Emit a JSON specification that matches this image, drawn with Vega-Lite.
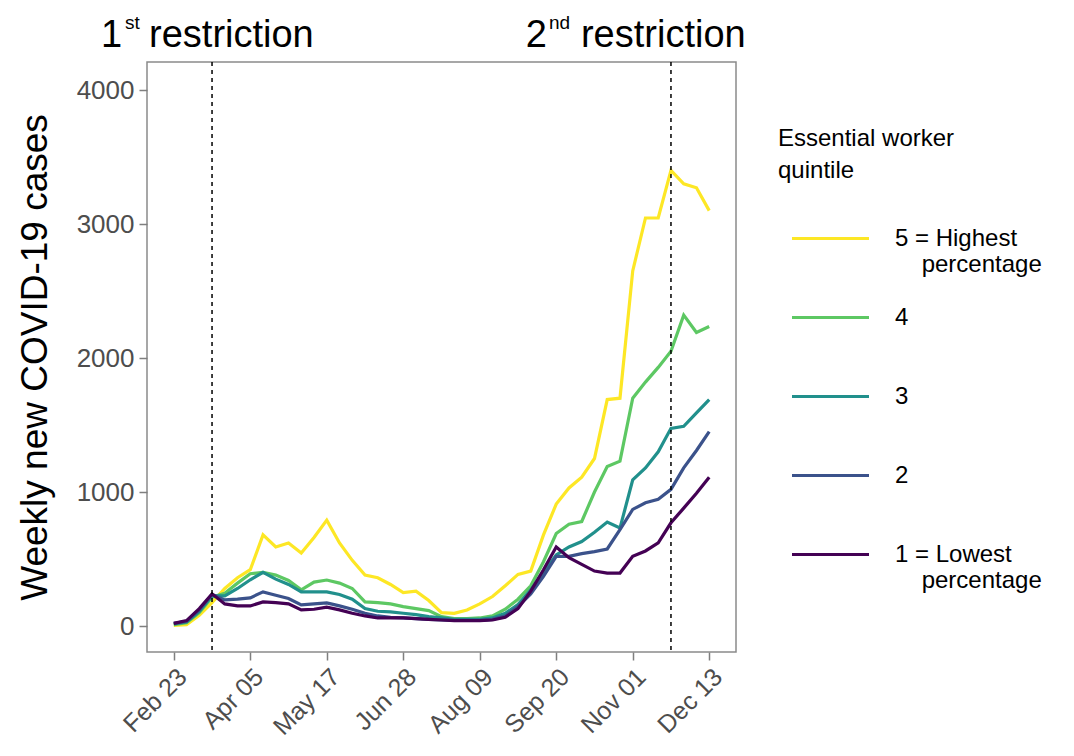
{
  "$schema": "https://vega.github.io/schema/vega-lite/v6.json",
  "autosize": "none",
  "width": 589,
  "height": 590,
  "padding": {"left": 147, "top": 62, "right": 338, "bottom": 104},
  "background": "white",
  "config": {
    "font": "Liberation Sans",
    "view": {"stroke": "#8a8a8a", "strokeWidth": 1.5},
    "axis": {"grid": false, "domain": false, "tickColor": "#7f7f7f", "tickWidth": 1.5, "tickSize": 8, "labelColor": "#4d4d4d", "labelFontSize": 25, "titleColor": "#000000", "titleFontWeight": "normal"}
  },
  "datasets": {
    "cases": [
      {"d":"2020-02-23","q":"5","v":5},{"d":"2020-03-01","q":"5","v":10},{"d":"2020-03-08","q":"5","v":80},{"d":"2020-03-15","q":"5","v":175},{"d":"2020-03-22","q":"5","v":280},{"d":"2020-03-29","q":"5","v":360},{"d":"2020-04-05","q":"5","v":420},{"d":"2020-04-12","q":"5","v":680},{"d":"2020-04-19","q":"5","v":590},{"d":"2020-04-26","q":"5","v":620},{"d":"2020-05-03","q":"5","v":545},{"d":"2020-05-10","q":"5","v":660},{"d":"2020-05-17","q":"5","v":790},{"d":"2020-05-24","q":"5","v":620},{"d":"2020-05-31","q":"5","v":490},{"d":"2020-06-07","q":"5","v":380},{"d":"2020-06-14","q":"5","v":360},{"d":"2020-06-21","q":"5","v":310},{"d":"2020-06-28","q":"5","v":250},{"d":"2020-07-05","q":"5","v":260},{"d":"2020-07-12","q":"5","v":190},{"d":"2020-07-19","q":"5","v":100},{"d":"2020-07-26","q":"5","v":95},{"d":"2020-08-02","q":"5","v":120},{"d":"2020-08-09","q":"5","v":165},{"d":"2020-08-16","q":"5","v":220},{"d":"2020-08-23","q":"5","v":300},{"d":"2020-08-30","q":"5","v":385},{"d":"2020-09-06","q":"5","v":410},{"d":"2020-09-13","q":"5","v":680},{"d":"2020-09-20","q":"5","v":910},{"d":"2020-09-27","q":"5","v":1030},{"d":"2020-10-04","q":"5","v":1110},{"d":"2020-10-11","q":"5","v":1250},{"d":"2020-10-18","q":"5","v":1690},{"d":"2020-10-25","q":"5","v":1700},{"d":"2020-11-01","q":"5","v":2650},{"d":"2020-11-08","q":"5","v":3045},{"d":"2020-11-15","q":"5","v":3045},{"d":"2020-11-22","q":"5","v":3400},{"d":"2020-11-29","q":"5","v":3300},{"d":"2020-12-06","q":"5","v":3270},{"d":"2020-12-13","q":"5","v":3100},
      {"d":"2020-02-23","q":"4","v":10},{"d":"2020-03-01","q":"4","v":25},{"d":"2020-03-08","q":"4","v":100},{"d":"2020-03-15","q":"4","v":215},{"d":"2020-03-22","q":"4","v":245},{"d":"2020-03-29","q":"4","v":320},{"d":"2020-04-05","q":"4","v":390},{"d":"2020-04-12","q":"4","v":400},{"d":"2020-04-19","q":"4","v":380},{"d":"2020-04-26","q":"4","v":340},{"d":"2020-05-03","q":"4","v":270},{"d":"2020-05-10","q":"4","v":328},{"d":"2020-05-17","q":"4","v":343},{"d":"2020-05-24","q":"4","v":320},{"d":"2020-05-31","q":"4","v":280},{"d":"2020-06-07","q":"4","v":180},{"d":"2020-06-14","q":"4","v":175},{"d":"2020-06-21","q":"4","v":165},{"d":"2020-06-28","q":"4","v":145},{"d":"2020-07-05","q":"4","v":130},{"d":"2020-07-12","q":"4","v":115},{"d":"2020-07-19","q":"4","v":70},{"d":"2020-07-26","q":"4","v":55},{"d":"2020-08-02","q":"4","v":55},{"d":"2020-08-09","q":"4","v":60},{"d":"2020-08-16","q":"4","v":75},{"d":"2020-08-23","q":"4","v":125},{"d":"2020-08-30","q":"4","v":200},{"d":"2020-09-06","q":"4","v":300},{"d":"2020-09-13","q":"4","v":480},{"d":"2020-09-20","q":"4","v":690},{"d":"2020-09-27","q":"4","v":760},{"d":"2020-10-04","q":"4","v":780},{"d":"2020-10-11","q":"4","v":1000},{"d":"2020-10-18","q":"4","v":1190},{"d":"2020-10-25","q":"4","v":1230},{"d":"2020-11-01","q":"4","v":1700},{"d":"2020-11-08","q":"4","v":1820},{"d":"2020-11-15","q":"4","v":1930},{"d":"2020-11-22","q":"4","v":2050},{"d":"2020-11-29","q":"4","v":2320},{"d":"2020-12-06","q":"4","v":2190},{"d":"2020-12-13","q":"4","v":2235},
      {"d":"2020-02-23","q":"3","v":15},{"d":"2020-03-01","q":"3","v":30},{"d":"2020-03-08","q":"3","v":110},{"d":"2020-03-15","q":"3","v":225},{"d":"2020-03-22","q":"3","v":225},{"d":"2020-03-29","q":"3","v":280},{"d":"2020-04-05","q":"3","v":345},{"d":"2020-04-12","q":"3","v":400},{"d":"2020-04-19","q":"3","v":350},{"d":"2020-04-26","q":"3","v":310},{"d":"2020-05-03","q":"3","v":254},{"d":"2020-05-10","q":"3","v":254},{"d":"2020-05-17","q":"3","v":254},{"d":"2020-05-24","q":"3","v":235},{"d":"2020-05-31","q":"3","v":200},{"d":"2020-06-07","q":"3","v":130},{"d":"2020-06-14","q":"3","v":110},{"d":"2020-06-21","q":"3","v":105},{"d":"2020-06-28","q":"3","v":95},{"d":"2020-07-05","q":"3","v":85},{"d":"2020-07-12","q":"3","v":70},{"d":"2020-07-19","q":"3","v":60},{"d":"2020-07-26","q":"3","v":50},{"d":"2020-08-02","q":"3","v":50},{"d":"2020-08-09","q":"3","v":50},{"d":"2020-08-16","q":"3","v":60},{"d":"2020-08-23","q":"3","v":95},{"d":"2020-08-30","q":"3","v":160},{"d":"2020-09-06","q":"3","v":270},{"d":"2020-09-13","q":"3","v":400},{"d":"2020-09-20","q":"3","v":530},{"d":"2020-09-27","q":"3","v":590},{"d":"2020-10-04","q":"3","v":630},{"d":"2020-10-11","q":"3","v":700},{"d":"2020-10-18","q":"3","v":776},{"d":"2020-10-25","q":"3","v":731},{"d":"2020-11-01","q":"3","v":1090},{"d":"2020-11-08","q":"3","v":1180},{"d":"2020-11-15","q":"3","v":1300},{"d":"2020-11-22","q":"3","v":1475},{"d":"2020-11-29","q":"3","v":1490},{"d":"2020-12-06","q":"3","v":1590},{"d":"2020-12-13","q":"3","v":1690},
      {"d":"2020-02-23","q":"2","v":20},{"d":"2020-03-01","q":"2","v":35},{"d":"2020-03-08","q":"2","v":120},{"d":"2020-03-15","q":"2","v":235},{"d":"2020-03-22","q":"2","v":195},{"d":"2020-03-29","q":"2","v":200},{"d":"2020-04-05","q":"2","v":210},{"d":"2020-04-12","q":"2","v":255},{"d":"2020-04-19","q":"2","v":230},{"d":"2020-04-26","q":"2","v":205},{"d":"2020-05-03","q":"2","v":157},{"d":"2020-05-10","q":"2","v":165},{"d":"2020-05-17","q":"2","v":172},{"d":"2020-05-24","q":"2","v":150},{"d":"2020-05-31","q":"2","v":125},{"d":"2020-06-07","q":"2","v":95},{"d":"2020-06-14","q":"2","v":75},{"d":"2020-06-21","q":"2","v":65},{"d":"2020-06-28","q":"2","v":60},{"d":"2020-07-05","q":"2","v":55},{"d":"2020-07-12","q":"2","v":50},{"d":"2020-07-19","q":"2","v":45},{"d":"2020-07-26","q":"2","v":42},{"d":"2020-08-02","q":"2","v":42},{"d":"2020-08-09","q":"2","v":42},{"d":"2020-08-16","q":"2","v":50},{"d":"2020-08-23","q":"2","v":75},{"d":"2020-08-30","q":"2","v":145},{"d":"2020-09-06","q":"2","v":240},{"d":"2020-09-13","q":"2","v":370},{"d":"2020-09-20","q":"2","v":520},{"d":"2020-09-27","q":"2","v":520},{"d":"2020-10-04","q":"2","v":540},{"d":"2020-10-11","q":"2","v":555},{"d":"2020-10-18","q":"2","v":575},{"d":"2020-10-25","q":"2","v":720},{"d":"2020-11-01","q":"2","v":870},{"d":"2020-11-08","q":"2","v":920},{"d":"2020-11-15","q":"2","v":945},{"d":"2020-11-22","q":"2","v":1020},{"d":"2020-11-29","q":"2","v":1180},{"d":"2020-12-06","q":"2","v":1310},{"d":"2020-12-13","q":"2","v":1450},
      {"d":"2020-02-23","q":"1","v":20},{"d":"2020-03-01","q":"1","v":40},{"d":"2020-03-08","q":"1","v":130},{"d":"2020-03-15","q":"1","v":240},{"d":"2020-03-22","q":"1","v":165},{"d":"2020-03-29","q":"1","v":150},{"d":"2020-04-05","q":"1","v":150},{"d":"2020-04-12","q":"1","v":180},{"d":"2020-04-19","q":"1","v":175},{"d":"2020-04-26","q":"1","v":165},{"d":"2020-05-03","q":"1","v":120},{"d":"2020-05-10","q":"1","v":125},{"d":"2020-05-17","q":"1","v":140},{"d":"2020-05-24","q":"1","v":120},{"d":"2020-05-31","q":"1","v":95},{"d":"2020-06-07","q":"1","v":75},{"d":"2020-06-14","q":"1","v":60},{"d":"2020-06-21","q":"1","v":60},{"d":"2020-06-28","q":"1","v":60},{"d":"2020-07-05","q":"1","v":55},{"d":"2020-07-12","q":"1","v":50},{"d":"2020-07-19","q":"1","v":45},{"d":"2020-07-26","q":"1","v":40},{"d":"2020-08-02","q":"1","v":40},{"d":"2020-08-09","q":"1","v":40},{"d":"2020-08-16","q":"1","v":45},{"d":"2020-08-23","q":"1","v":65},{"d":"2020-08-30","q":"1","v":130},{"d":"2020-09-06","q":"1","v":260},{"d":"2020-09-13","q":"1","v":420},{"d":"2020-09-20","q":"1","v":590},{"d":"2020-09-27","q":"1","v":510},{"d":"2020-10-04","q":"1","v":460},{"d":"2020-10-11","q":"1","v":410},{"d":"2020-10-18","q":"1","v":395},{"d":"2020-10-25","q":"1","v":395},{"d":"2020-11-01","q":"1","v":520},{"d":"2020-11-08","q":"1","v":560},{"d":"2020-11-15","q":"1","v":620},{"d":"2020-11-22","q":"1","v":770},{"d":"2020-11-29","q":"1","v":880},{"d":"2020-12-06","q":"1","v":990},{"d":"2020-12-13","q":"1","v":1110}
    ],
    "restrictions": [
      {"d":"2020-03-15","ord":"1","sup":"st","word":"restriction"},
      {"d":"2020-11-22","ord":"2","sup":"nd","word":"restriction"}
    ]
  },
  "encoding": {
    "x": {
      "field": "d", "type": "temporal",
      "scale": {"type": "utc", "nice": false, "domain": [{"year": 2020, "month": 2, "date": 8, "hours": 7, "utc": true}, {"year": 2020, "month": 12, "date": 27, "hours": 17, "utc": true}]},
      "axis": {
        "title": null, "labelExpr": "utcFormat(datum.value, '%b %d')", "labelAngle": -45, "labelPadding": 4, "labelOverlap": false,
        "values": [
          {"year": 2020, "month": 2, "date": 23, "utc": true},
          {"year": 2020, "month": 4, "date": 5, "utc": true},
          {"year": 2020, "month": 5, "date": 17, "utc": true},
          {"year": 2020, "month": 6, "date": 28, "utc": true},
          {"year": 2020, "month": 8, "date": 9, "utc": true},
          {"year": 2020, "month": 9, "date": 20, "utc": true},
          {"year": 2020, "month": 11, "date": 1, "utc": true},
          {"year": 2020, "month": 12, "date": 13, "utc": true}
        ]
      }
    }
  },
  "layer": [
    {
      "data": {"name": "cases"},
      "mark": {"type": "line", "strokeWidth": 3.2, "clip": true},
      "encoding": {
        "y": {
          "field": "v", "type": "quantitative",
          "scale": {"domain": [-194, 4209], "nice": false, "zero": false},
          "axis": {"title": "Weekly new COVID-19 cases", "titleFontSize": 37, "titlePadding": 22, "values": [0, 1000, 2000, 3000, 4000], "format": "d", "labelPadding": 5, "labelFontSize": 26}
        },
        "color": {
          "field": "q", "type": "nominal",
          "scale": {"domain": ["5", "4", "3", "2", "1"], "range": ["#FDE725", "#5DC863", "#21908C", "#3B528B", "#440154"]},
          "legend": {
            "title": ["Essential worker", "quintile"],
            "orient": "none", "legendX": 631, "legendY": 65, "padding": 0,
            "titleFontSize": 24, "titleFontWeight": "normal", "titleColor": "#000000", "titleLineHeight": 32, "titlePadding": 15,
            "labelFontSize": 24, "labelColor": "#000000", "labelLimit": 400, "labelOffset": 24,
            "symbolType": "stroke", "symbolSize": 5929, "symbolStrokeWidth": 3.2, "symbolOffset": 12, "rowPadding": 0, "gridAlign": "all",
            "labelExpr": "datum.label == '5' ? ['5 = Highest', '\u200b\u00a0\u00a0\u00a0\u00a0percentage'] : datum.label == '1' ? ['1 = Lowest', '\u200b\u00a0\u00a0\u00a0\u00a0percentage'] : datum.label"
          }
        },
        "order": {"field": "q", "type": "ordinal", "sort": "descending"}
      }
    },
    {
      "data": {"name": "restrictions"},
      "mark": {"type": "rule", "strokeDash": [4, 4], "strokeWidth": 1.5, "color": "#000000"},
      "encoding": {}
    },
    {
      "data": {"name": "restrictions"},
      "transform": [{"filter": "datum.ord == '1'"}],
      "layer": [
        {"mark": {"type": "text", "align": "left", "baseline": "alphabetic", "fontSize": 38, "dx": -63, "color": "#000000"}, "encoding": {"y": {"datum": 4321}, "text": {"field": "word"}}},
        {"mark": {"type": "text", "align": "right", "baseline": "alphabetic", "fontSize": 38, "dx": -90, "color": "#000000"}, "encoding": {"y": {"datum": 4321}, "text": {"field": "ord"}}},
        {"mark": {"type": "text", "align": "left", "baseline": "alphabetic", "fontSize": 19, "dx": -87, "dy": -18, "color": "#000000"}, "encoding": {"y": {"datum": 4321}, "text": {"field": "sup"}}}
      ]
    },
    {
      "data": {"name": "restrictions"},
      "transform": [{"filter": "datum.ord == '2'"}],
      "layer": [
        {"mark": {"type": "text", "align": "left", "baseline": "alphabetic", "fontSize": 38, "dx": -90, "color": "#000000"}, "encoding": {"y": {"datum": 4321}, "text": {"field": "word"}}},
        {"mark": {"type": "text", "align": "right", "baseline": "alphabetic", "fontSize": 38, "dx": -124, "color": "#000000"}, "encoding": {"y": {"datum": 4321}, "text": {"field": "ord"}}},
        {"mark": {"type": "text", "align": "left", "baseline": "alphabetic", "fontSize": 19, "dx": -122, "dy": -18, "color": "#000000"}, "encoding": {"y": {"datum": 4321}, "text": {"field": "sup"}}}
      ]
    }
  ]
}
